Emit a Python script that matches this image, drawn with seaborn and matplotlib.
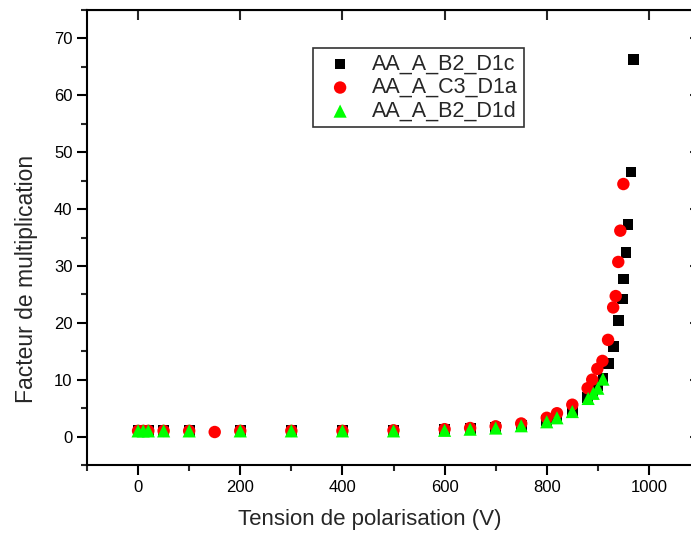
import pandas as pd
import matplotlib
matplotlib.use('Agg')
import matplotlib.pyplot as plt
from matplotlib.ticker import MultipleLocator
import seaborn as sns

# Series AA_A_B2_D1c (black squares)
x_b2_d1c = [0, 10, 20, 50, 100, 200, 300, 400, 500, 600, 650, 700, 750, 800, 820, 850,
            880, 890, 900, 910, 921, 930, 940, 948, 950, 955, 959, 965, 970]
y_b2_d1c = [1.0, 1.0, 1.0, 1.0, 1.0, 1.0, 1.0, 1.0, 1.1, 1.2, 1.4, 1.6, 2.0, 2.8, 3.4, 4.6,
            6.9, 8.0, 9.0, 10.3, 12.9, 15.8, 20.4, 24.2, 27.7, 32.4, 37.3, 46.5, 66.3]

# Series AA_A_C3_D1a (red circles)
x_c3_d1a = [0, 10, 20, 50, 100, 150, 200, 300, 400, 500, 600, 650, 700, 750, 800, 820, 850,
            880, 889, 899, 909, 920, 930, 935, 940, 944, 950]
y_c3_d1a = [1.0, 1.0, 1.0, 1.0, 1.0, 0.8, 1.0, 1.0, 1.0, 1.1, 1.3, 1.5, 1.8, 2.3, 3.3, 4.1, 5.6,
            8.5, 10.0, 11.9, 13.3, 17.0, 22.7, 24.7, 30.7, 36.2, 44.4]

# Series AA_A_B2_D1d (green triangles)
x_b2_d1d = [0, 10, 20, 50, 100, 200, 300, 400, 500, 600, 650, 700, 750, 800, 820, 850,
            881, 891, 900, 910]
y_b2_d1d = [1.0, 1.0, 1.0, 1.0, 1.0, 1.0, 1.0, 1.0, 1.0, 1.1, 1.3, 1.5, 1.9, 2.6, 3.3, 4.4,
            6.7, 7.6, 8.5, 10.1]

labels = ['AA_A_B2_D1c', 'AA_A_C3_D1a', 'AA_A_B2_D1d']

df_b = pd.DataFrame({'V': x_b2_d1c, 'M': y_b2_d1c})
df_r = pd.DataFrame({'V': x_c3_d1a, 'M': y_c3_d1a})
df_g = pd.DataFrame({'V': x_b2_d1d, 'M': y_b2_d1d})

sns.set_style('ticks')
plt.rcParams['font.family'] = ['Liberation Sans', 'DejaVu Sans']

fig = plt.figure(figsize=(6.91, 5.42), dpi=100)
ax = fig.add_axes([87 / 691, 1 - 465 / 542, 613 / 691, 455 / 542])

sns.scatterplot(data=df_b, x='V', y='M', marker='s', color='black', s=60,
                edgecolor='none', label=labels[0], ax=ax)
sns.scatterplot(data=df_r, x='V', y='M', marker='o', color='#ff0000', s=80,
                edgecolor='none', label=labels[1], ax=ax)
sns.scatterplot(data=df_g, x='V', y='M', marker='^', color='#00ff00', s=90,
                edgecolor='none', label=labels[2], ax=ax)

ax.set_xlim(-100, 1100)
ax.set_ylim(-5, 75)
ax.xaxis.set_major_locator(MultipleLocator(200))
ax.xaxis.set_minor_locator(MultipleLocator(100))
ax.yaxis.set_major_locator(MultipleLocator(10))
ax.yaxis.set_minor_locator(MultipleLocator(5))
ax.tick_params(which='major', direction='out', length=7, width=1.5, labelsize=12, colors='black')
ax.tick_params(which='minor', direction='out', length=4, width=1.5)
for sp in ax.spines.values():
    sp.set_visible(True)
    sp.set_linewidth(1.5)
    sp.set_color('black')

top = ax.secondary_xaxis('top')
top.xaxis.set_major_locator(MultipleLocator(200))
top.tick_params(direction='in', length=7, width=1.5, labeltop=False)
right = ax.secondary_yaxis('right')
right.yaxis.set_major_locator(MultipleLocator(10))
right.tick_params(direction='in', length=7, width=1.5, labelright=False)

ax.set_xlabel('Tension de polarisation (V)', fontsize=16)
ax.set_ylabel('Facteur de multiplication', fontsize=16.5)
ax.xaxis.set_label_coords(0.462, -0.097)
ax.yaxis.set_label_coords(-0.08, 0.409)

leg = ax.legend(loc='upper left', bbox_to_anchor=(0.369, 0.916), borderaxespad=0,
                fontsize=15.5, frameon=True, fancybox=False, edgecolor='black',
                handletextpad=0.5, labelspacing=0.12, borderpad=0.25, handlelength=2.0)
leg.get_frame().set_linewidth(1.2)

plt.savefig('out.png', dpi=100)
plt.close()
